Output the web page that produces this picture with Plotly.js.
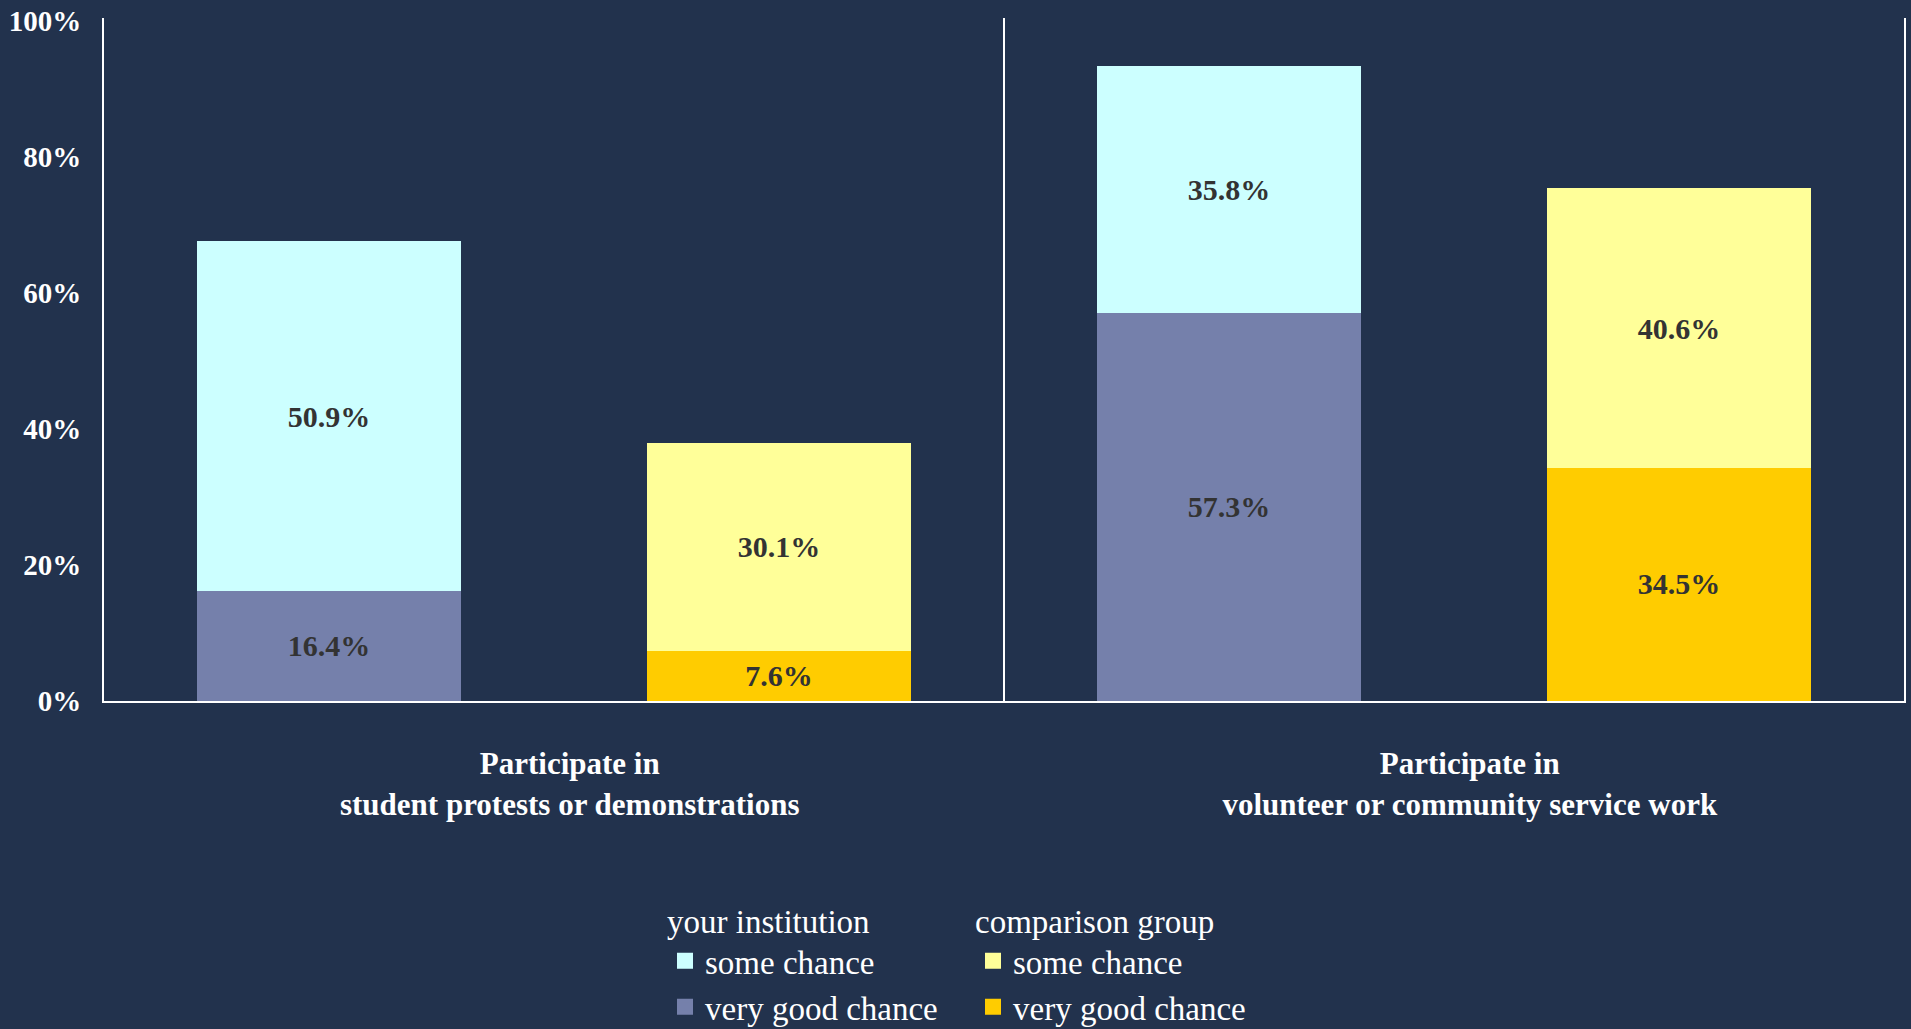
<!DOCTYPE html>
<html>
<head>
<meta charset="utf-8">
<script src="https://cdn.plot.ly/plotly-3.0.1.min.js"></script>
<style>html,body{margin:0;padding:0;background:#22324D;}#chart{width:1911px;height:1029px;}</style>
</head>
<body>
<div id="chart"></div>
<script>
// ---- data ----
const categories = ["Participate in<br>student protests or demonstrations", "Participate in<br>volunteer or community service work"];
const instVeryGood = [16.4, 57.3];
const instSome = [50.9, 35.8];
const compVeryGood = [7.6, 34.5];
const compSome = [30.1, 40.6];
const yTickValues = [0, 20, 40, 60, 80, 100];
const yTickLabels = ["0%", "20%", "40%", "60%", "80%", "100%"];
const legendTitles = ["your institution", "comparison group"];
const seriesNames = ["some chance", "very good chance"];

// ---- styles ----
const BG = "#22324D";
const SERIF = "Liberation Serif, Times New Roman, serif";
const colors = {instSome: "#CCFFFF", instVG: "#7580AB", compSome: "#FFFF99", compVG: "#FFCC00"};
const LABEL_SHIFT = 0.035;

const xInst = categories.map((c, i) => 2 * i);
const xComp = categories.map((c, i) => 2 * i + 1);
const xTicks = categories.map((c, i) => 2 * i + 0.5 + LABEL_SHIFT);

function barTrace(x, y, name, color, legend) {
  return {
    type: "bar", x: x, y: y, name: name, legend: legend,
    width: 0.576,
    marker: {color: color, line: {color: color, width: 4}},
    texttemplate: "%{y:.1f}%",
    textposition: "inside",
    insidetextanchor: "middle",
    textangle: 0,
    textfont: {family: SERIF, size: 30, color: "#333333", weight: "bold"},
    hoverinfo: "skip"
  };
}

const data = [
  barTrace(xInst, instVeryGood, seriesNames[1], colors.instVG, "legend"),
  barTrace(xInst, instSome, seriesNames[0], colors.instSome, "legend"),
  barTrace(xComp, compVeryGood, seriesNames[1], colors.compVG, "legend2"),
  barTrace(xComp, compSome, seriesNames[0], colors.compSome, "legend2")
];

const legendFont = {family: SERIF, size: 33, color: "#FFFFFF"};
const legendBase = {
  bgcolor: "rgba(0,0,0,0)",
  font: legendFont,
  traceorder: "reversed",
  orientation: "v",
  xref: "container", yref: "container",
  xanchor: "left", yanchor: "top",
  itemclick: false, itemdoubleclick: false
};

const layout = {
  width: 1911, height: 1029,
  paper_bgcolor: BG, plot_bgcolor: BG,
  margin: {l: 104, r: 7, t: 18, b: 328, pad: 0, autoexpand: false},
  barmode: "stack",
  showlegend: true,
  font: {family: SERIF, color: "#FFFFFF"},
  uniformtext: {mode: "show", minsize: 30},
  xaxis: {
    range: [-0.5, 3.5],
    tickmode: "array", tickvals: xTicks, ticktext: categories,
    tickangle: 0,
    showgrid: false, zeroline: false,
    showline: true, linecolor: "#FFFFFF", linewidth: 2,
    ticks: "", ticklabelstandoff: 34,
    tickfont: {family: SERIF, size: 31, color: "#FFFFFF", weight: "bold"},
    fixedrange: true
  },
  yaxis: {
    range: [0, 100.44],
    tickmode: "array", tickvals: yTickValues, ticktext: yTickLabels,
    showgrid: false, zeroline: false,
    showline: true, mirror: true, linecolor: "#FFFFFF", linewidth: 2,
    ticks: "", ticklabelstandoff: 15,
    tickfont: {family: SERIF, size: 29, color: "#FFFFFF", weight: "bold"},
    fixedrange: true
  },
  shapes: [{
    type: "line", xref: "x", yref: "paper",
    x0: 1.5, x1: 1.5, y0: 0, y1: 1,
    line: {color: "#FFFFFF", width: 2}
  }],
  legend: Object.assign({}, legendBase, {
    x: 665 / 1911, y: 1 - 890 / 1029,
    title: {text: legendTitles[0], font: legendFont, side: "top"}
  }),
  legend2: Object.assign({}, legendBase, {
    x: 973 / 1911, y: 1 - 890 / 1029,
    title: {text: legendTitles[1], font: legendFont, side: "top"}
  })
};

Plotly.newPlot("chart", data, layout, {displayModeBar: false, staticPlot: true});
</script>
</body>
</html>
